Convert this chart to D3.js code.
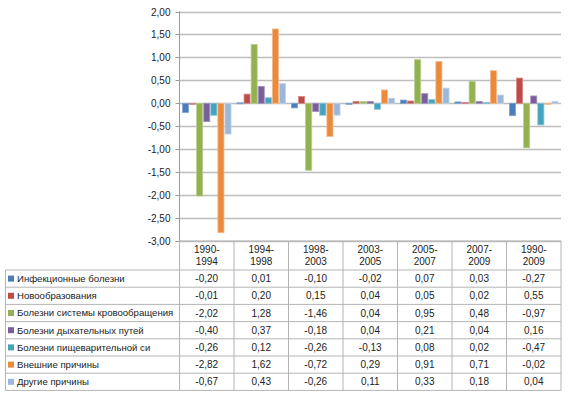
<!DOCTYPE html>
<html>
<head>
<meta charset="utf-8">
<script src="https://cdn.jsdelivr.net/npm/d3@7"></script>
<style>
  body { margin: 0; background: #fff; }
  text { font-family: "Liberation Sans", Arial, sans-serif; font-size: 10px; fill: #222; }
</style>
</head>
<body>
<svg id="chart" width="570" height="398"></svg>
<script>
// periods along the x axis
var periods = ["1990-1994", "1994-1998", "1998-2003", "2003-2005", "2005-2007", "2007-2009", "1990-2009"];

var seriesNames = [
  "Инфекционные болезни",
  "Новообразования",
  "Болезни системы кровообращения",
  "Болезни дыхательных путей",
  "Болезни пищеварительной си",
  "Внешние причины",
  "Другие причины"
];

var infectious  = [-0.20, 0.01, -0.10, -0.02, 0.07, 0.03, -0.27];
var neoplasms   = [-0.01, 0.20, 0.15, 0.04, 0.05, 0.02, 0.55];
var circulatory = [-2.02, 1.28, -1.46, 0.04, 0.95, 0.48, -0.97];
var respiratory = [-0.40, 0.37, -0.18, 0.04, 0.21, 0.04, 0.16];
var digestive   = [-0.26, 0.12, -0.26, -0.13, 0.08, 0.02, -0.47];
var external    = [-2.82, 1.62, -0.72, 0.29, 0.91, 0.71, -0.02];
var other       = [-0.67, 0.43, -0.26, 0.11, 0.33, 0.18, 0.04];

var yTicks = [2, 1.5, 1, 0.5, 0, -0.5, -1, -1.5, -2, -2.5, -3];

var seriesValues = [infectious, neoplasms, circulatory, respiratory, digestive, external, other];
var colors = ["#4A7DBA", "#BE4B48", "#93B150", "#7A5E9C", "#44A3BD", "#EB8A3A", "#9DB7DA"];
var strokes = ["#7FA2CF", "#D58A88", "#B9CE8E", "#A592BE", "#86C3D5", "#F6B98A", "#C2D3EA"];

var svg = d3.select("#chart");
var fmt = function (v) { return d3.format(".2f")(v).replace(".", ",").replace("−", "-"); };

var plotLeft = 179.5, plotRight = 561, plotTop = 11.5, plotBottom = 241;

var x = d3.scaleBand()
    .domain(periods)
    .range([plotLeft, plotRight])
    .paddingInner(0.09)
    .paddingOuter(0.045);

var xSub = d3.scaleBand()
    .domain(d3.range(seriesNames.length))
    .range([0, x.bandwidth()]);

var y = d3.scaleLinear()
    .domain([-3, 2])
    .range([plotBottom, plotTop]);

// gridlines
svg.append("g")
    .selectAll("line")
    .data(yTicks)
    .enter().append("line")
      .attr("x1", plotLeft)
      .attr("x2", plotRight)
      .attr("y1", d => Math.round(y(d)) + 0.5)
      .attr("y2", d => Math.round(y(d)) + 0.5)
      .style("stroke", "#bdbdbd")
      .style("stroke-width", 1.5);

// y axis
var yAxis = d3.axisLeft(y)
    .tickValues(yTicks)
    .tickFormat(fmt)
    .tickSize(4)
    .tickPadding(5);

var ag = svg.append("g")
    .attr("transform", "translate(" + plotLeft + ",0)")
    .call(yAxis);
ag.select(".domain").remove();
ag.selectAll(".tick line").style("stroke", "#9a9a9a");
ag.selectAll(".tick text").style("font-family", "Liberation Sans, Arial, sans-serif").style("font-size", "10px").style("fill", "#222");
ag.selectAll(".tick").attr("transform", d => "translate(0," + (Math.round(y(d)) + 0.5) + ")");

// bars
var bars = svg.append("g");
seriesValues.forEach(function (vals, si) {
  bars.selectAll(".s" + si)
      .data(vals)
      .enter().append("rect")
        .attr("class", "s" + si)
        .attr("x", (d, i) => x(periods[i]) + xSub(si) + 0.5)
        .attr("width", xSub.bandwidth() - 1)
        .attr("y", d => Math.min(y(d), y(0)))
        .attr("height", d => Math.max(1, Math.abs(y(d) - y(0))))
        .style("fill", colors[si])
        .style("stroke", strokes[si])
        .style("stroke-width", 0.8);
});

// axis line over bars
svg.append("line")
    .attr("x1", plotLeft).attr("x2", plotLeft)
    .attr("y1", plotTop).attr("y2", plotBottom)
    .style("stroke", "#9a9a9a");

// data table
var rowTop = 270, rowH = 17.2, tableLeft = 5.5;
var headerTop = plotBottom;
var table = svg.append("g");
var lineStyle = function (sel) { return sel.style("stroke", "#b4b4b4").style("stroke-width", 1); };

lineStyle(table.append("line").attr("x1", plotLeft).attr("x2", plotRight).attr("y1", headerTop).attr("y2", headerTop));
lineStyle(table.append("line").attr("x1", tableLeft).attr("x2", plotRight).attr("y1", rowTop).attr("y2", rowTop));

var colEdges = d3.range(periods.length + 1).map(i => plotLeft + i * (plotRight - plotLeft) / periods.length);

colEdges.forEach(function (cx) {
  lineStyle(table.append("line").attr("x1", cx).attr("x2", cx)
      .attr("y1", headerTop).attr("y2", rowTop + rowH * seriesNames.length));
});
lineStyle(table.append("line").attr("x1", tableLeft).attr("x2", tableLeft)
    .attr("y1", rowTop).attr("y2", rowTop + rowH * seriesNames.length));

seriesNames.forEach(function (name, si) {
  var yb = rowTop + rowH * (si + 1);
  lineStyle(table.append("line").attr("x1", tableLeft).attr("x2", plotRight).attr("y1", yb).attr("y2", yb));
  var cy = rowTop + rowH * si + rowH / 2;
  table.append("rect")
      .attr("x", 8).attr("y", cy - 3)
      .attr("width", 6).attr("height", 6)
      .style("fill", colors[si]);
  table.append("text")
      .attr("x", 17).attr("y", cy)
      .attr("dy", "0.35em")
      .style("font-size", "9.6px")
      .text(name);
  seriesValues[si].forEach(function (v, i) {
    table.append("text")
        .attr("x", (colEdges[i] + colEdges[i + 1]) / 2)
        .attr("y", cy)
        .attr("dy", "0.35em")
        .attr("text-anchor", "middle")
        .text(fmt(v));
  });
});

// header labels (two lines)
periods.forEach(function (p, i) {
  var parts = p.split("-");
  var cx = (colEdges[i] + colEdges[i + 1]) / 2;
  table.append("text")
      .attr("x", cx).attr("y", headerTop + 12)
      .attr("text-anchor", "middle")
      .text(parts[0] + "-");
  table.append("text")
      .attr("x", cx).attr("y", headerTop + 24)
      .attr("text-anchor", "middle")
      .text(parts[1]);
});
</script>
</body>
</html>
